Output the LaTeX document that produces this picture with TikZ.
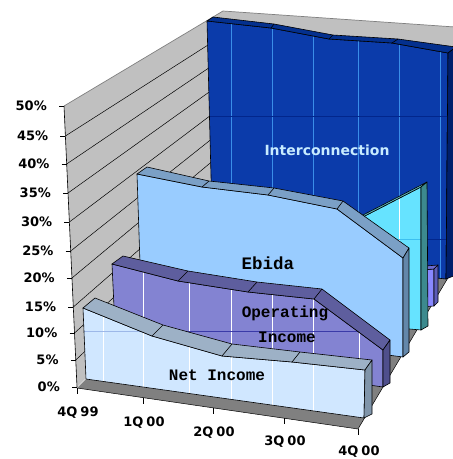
\documentclass[tikz,border=0pt]{standalone}
\usepackage{fontspec}
\setmainfont{DejaVu Sans}
\newfontfamily\monofnt{Liberation Mono}
\usetikzlibrary{calc}
\definecolor{floorgray}{HTML}{808080}
\definecolor{wallgray}{HTML}{C0C0C0}
\definecolor{wallline}{HTML}{808080}
\definecolor{icFront}{HTML}{0B3BAA}
\definecolor{icSlab}{HTML}{04308E}
\definecolor{icRight}{HTML}{001F6B}
\definecolor{icV}{HTML}{3A8EE8}
\definecolor{icH}{HTML}{02268C}
\definecolor{puFront}{HTML}{8888FF}
\definecolor{puSlab}{HTML}{6A6AD0}
\definecolor{puRight}{HTML}{5C5CB8}
\definecolor{cyFront}{HTML}{66E3FF}
\definecolor{cySlab}{HTML}{5EBCC4}
\definecolor{cyRight}{HTML}{3C8A8E}
\definecolor{cyH}{HTML}{3CC0F0}
\definecolor{ebFront}{HTML}{99CCFF}
\definecolor{ebSlab}{HTML}{7BA0C6}
\definecolor{ebRight}{HTML}{6387AA}
\definecolor{opFront}{HTML}{8383D2}
\definecolor{opSlab}{HTML}{5E5E9E}
\definecolor{opRight}{HTML}{4F4F8C}
\definecolor{opH}{HTML}{3A3AA8}
\definecolor{niFront}{HTML}{D0E7FF}
\definecolor{niSlab}{HTML}{9DB1C6}
\definecolor{niRight}{HTML}{8095AA}
\definecolor{niH}{HTML}{9DB8E8}
\definecolor{intertext}{HTML}{C8ECFF}
\newcommand\myaxfont{\bfseries\fontsize{13}{13}\selectfont}
\newcommand\myserfont{\monofnt\bfseries\fontsize{16}{16}\selectfont}
\newcommand\myebfont{\monofnt\bfseries\fontsize{17.5}{17.5}\selectfont}
\newcommand\myintfont{\bfseries\fontsize{14}{14}\selectfont}
\begin{document}
\begin{tikzpicture}[x=1pt,y=-1pt,
  edge/.style={draw=black,line width=0.6pt,line join=round},
  gline/.style={line width=0.7pt},
  wgrid/.style={draw=black,line width=0.5pt},
  ylab/.style={font=\myaxfont,anchor=east,inner sep=0pt},
  clab/.style={font=\myaxfont,inner sep=0pt},
  slabel/.style={font=\myserfont,inner sep=0pt,text=black}]
\useasboundingbox (0,0) rectangle (453,459);
\coordinate (vp) at (827,-350);
% ---------- floor ----------
\fill[floorgray] (77,388) -- (358,429) -- (455,266) -- (455,255) -- (223,243) -- cycle;
\draw[black,line width=0.5pt] (77,388) -- (358,429) -- (455,266);
% ---------- walls ----------
\fill[wallgray] (223,11) -- (455,27) -- (455,258) -- (223,243) -- cycle;
\fill[wallgray] (64,106) -- (223,11) -- (223,243) -- (77,387) -- cycle;
\begin{scope}
  \clip (64,106) -- (223,11) -- (223,243) -- (77,387) -- cycle;
  \foreach \yy in {136,164,193,222,251,278,307,333,360} {
    \pgfmathsetmacro\xx{64+13*(\yy-106)/281}
    \draw[wgrid] (\xx,\yy) -- ($(\xx,\yy)!0.6!(vp)$);
  }
\end{scope}
\draw[wallline,line width=0.7pt] (64,106) -- (223,11) -- (455,27);
% ---------- Interconnection ----------
\coordinate (i0) at (207,21); \coordinate (i1) at (271,28); \coordinate (i2) at (329,39);
\coordinate (i3) at (392,43); \coordinate (i4) at (448,53); \coordinate (ib4) at (446,279);
\coordinate (ib0) at (213,254);
\coordinate (j0) at (213,17); \coordinate (j1) at (274,24); \coordinate (j2) at (333,35);
\coordinate (j3) at (398,39); \coordinate (j4) at (456,47); \coordinate (jb4) at (456,275);
\fill[icFront] (i0)--(i1)--(i2)--(i3)--(i4)--(ib4)--(ib0)--cycle;
\begin{scope}
  \clip (i0)--(i1)--(i2)--(i3)--(i4)--(ib4)--(ib0)--cycle;
  \foreach \vx in {231,272,313,358,399,440} \draw[icV,gline] (\vx,0) -- (\vx,300);
  \draw[icH,gline] (200,116) -- (455,116);
  \draw[icH,gline] (200,239) -- (455,239);
\end{scope}
\draw[edge] (i0)--(i1)--(i2)--(i3)--(i4)--(ib4)--(ib0)--cycle;
\fill[icSlab] (i0)--(i1)--(i2)--(i3)--(i4)--(j4)--(j3)--(j2)--(j1)--(j0)--cycle;
\draw[edge] (i0)--(i1)--(i2)--(i3)--(i4)--(j4)--(j3)--(j2)--(j1)--(j0)--cycle;
\draw[edge] (i1)--(j1) (i2)--(j2) (i3)--(j3);
\fill[icRight] (i4)--(j4)--(jb4)--(ib4)--cycle;
\draw[edge] (i4)--(j4)--(jb4)--(ib4)--cycle;
% ---------- small purple series ----------
\coordinate (p3) at (395,272); \coordinate (p4) at (434,269); \coordinate (pb4) at (434,306);
\coordinate (pb3) at (395,309);
\coordinate (q3) at (400,268); \coordinate (q4) at (438,265); \coordinate (qb4) at (438,302);
\fill[puFront] (p3)--(p4)--(pb4)--(pb3)--cycle;
\draw[edge] (p3)--(p4)--(pb4)--(pb3)--cycle;
\fill[puSlab] (p3)--(p4)--(q4)--(q3)--cycle;
\draw[edge] (p3)--(p4)--(q4)--(q3)--cycle;
\fill[puRight] (p4)--(q4)--(qb4)--(pb4)--cycle;
\draw[edge] (p4)--(q4)--(qb4)--(pb4)--cycle;
% ---------- cyan series ----------
\coordinate (c0) at (215,250); \coordinate (c3) at (357,220); \coordinate (c4) at (421,187);
\coordinate (cb4) at (421,330); \coordinate (cb0) at (215,312);
\coordinate (d0) at (222,245); \coordinate (d3) at (363,215); \coordinate (d4) at (427,182);
\coordinate (db4) at (428,326);
\fill[cyFront] (c0)--(c3)--(c4)--(cb4)--(cb0)--cycle;
\begin{scope}
  \clip (c0)--(c3)--(c4)--(cb4)--(cb0)--cycle;
  \foreach \vx in {359,399} \draw[white,gline] (\vx,150) -- (\vx,340);
  \draw[cyH,gline] (200,239) -- (430,239);
\end{scope}
\draw[edge] (c0)--(c3)--(c4)--(cb4)--(cb0)--cycle;
\fill[cySlab] (c0)--(c3)--(c4)--(d4)--(d3)--(d0)--cycle;
\draw[edge] (c0)--(c3)--(c4)--(d4)--(d3)--(d0)--cycle;
\fill[cyRight] (c4)--(d4)--(db4)--(cb4)--cycle;
\draw[edge] (c4)--(d4)--(db4)--(cb4)--cycle;
% ---------- Ebida ----------
\coordinate (e0) at (137,174); \coordinate (e1) at (202,187); \coordinate (e2) at (268,195);
\coordinate (e3) at (337,209); \coordinate (e4) at (403,258); \coordinate (eb4) at (403,357);
\coordinate (eb0) at (142,323);
\coordinate (f0) at (147,167); \coordinate (f1) at (209,181); \coordinate (f2) at (274,188);
\coordinate (f3) at (343,201); \coordinate (f4) at (409,248); \coordinate (fb4) at (409,352);
\fill[ebFront] (e0)--(e1)--(e2)--(e3)--(e4)--(eb4)--(eb0)--cycle;
\draw[edge] (e0)--(e1)--(e2)--(e3)--(e4)--(eb4)--(eb0)--cycle;
\fill[ebSlab] (e0)--(e1)--(e2)--(e3)--(e4)--(f4)--(f3)--(f2)--(f1)--(f0)--cycle;
\draw[edge] (e0)--(e1)--(e2)--(e3)--(e4)--(f4)--(f3)--(f2)--(f1)--(f0)--cycle;
\draw[edge] (e1)--(f1) (e2)--(f2) (e3)--(f3);
\fill[ebRight] (e4)--(f4)--(fb4)--(eb4)--cycle;
\draw[edge] (e4)--(f4)--(fb4)--(eb4)--cycle;
% ---------- Operating Income ----------
\coordinate (o0) at (112,264); \coordinate (o1) at (178,281); \coordinate (o2) at (248,292);
\coordinate (o3) at (314,299); \coordinate (o4) at (383,350); \coordinate (ob4) at (383,387);
\coordinate (ob0) at (116,349);
\coordinate (g0) at (123,256); \coordinate (g1) at (188,271); \coordinate (g2) at (257,282);
\coordinate (g3) at (322,289); \coordinate (g4) at (390,340); \coordinate (gb4) at (390,383);
\fill[opFront] (o0)--(o1)--(o2)--(o3)--(o4)--(ob4)--(ob0)--cycle;
\begin{scope}
  \clip (o0)--(o1)--(o2)--(o3)--(o4)--(ob4)--(ob0)--cycle;
  \foreach \vx in {143,189,231,272,313,359} \draw[white,gline] (\vx,250) -- (\vx,400);
  \draw[opH,gline] (100,331) -- (400,331);
\end{scope}
\draw[edge] (o0)--(o1)--(o2)--(o3)--(o4)--(ob4)--(ob0)--cycle;
\fill[opSlab] (o0)--(o1)--(o2)--(o3)--(o4)--(g4)--(g3)--(g2)--(g1)--(g0)--cycle;
\draw[edge] (o0)--(o1)--(o2)--(o3)--(o4)--(g4)--(g3)--(g2)--(g1)--(g0)--cycle;
\draw[edge] (o1)--(g1) (o2)--(g2) (o3)--(g3);
\fill[opRight] (o4)--(g4)--(gb4)--(ob4)--cycle;
\draw[edge] (o4)--(g4)--(gb4)--(ob4)--cycle;
% ---------- Net Income ----------
\coordinate (n0) at (83,308); \coordinate (n1) at (152,336); \coordinate (n2) at (222,356);
\coordinate (n3) at (292,362); \coordinate (n4) at (365,370); \coordinate (nb4) at (364,418);
\coordinate (nb0) at (86,379);
\coordinate (m0) at (95,298); \coordinate (m1) at (163,325); \coordinate (m2) at (232,344);
\coordinate (m3) at (300,352); \coordinate (m4) at (372,360); \coordinate (mb4) at (372,414);
\fill[niFront] (n0)--(n1)--(n2)--(n3)--(n4)--(nb4)--(nb0)--cycle;
\begin{scope}
  \clip (n0)--(n1)--(n2)--(n3)--(n4)--(nb4)--(nb0)--cycle;
  \foreach \vx in {103,143,189,231,272,313} \draw[white,gline] (\vx,290) -- (\vx,430);
  \draw[niH,gline] (60,331) -- (400,331);
\end{scope}
\draw[edge] (n0)--(n1)--(n2)--(n3)--(n4)--(nb4)--(nb0)--cycle;
\fill[niSlab] (n0)--(n1)--(n2)--(n3)--(n4)--(m4)--(m3)--(m2)--(m1)--(m0)--cycle;
\draw[edge] (n0)--(n1)--(n2)--(n3)--(n4)--(m4)--(m3)--(m2)--(m1)--(m0)--cycle;
\draw[edge] (n1)--(m1) (n2)--(m2) (n3)--(m3);
\fill[niRight] (n4)--(m4)--(mb4)--(nb4)--cycle;
\draw[edge] (n4)--(m4)--(mb4)--(nb4)--cycle;
% ---------- value axis ----------
\coordinate (ax50) at (64,106); \coordinate (ax0) at (77,387);
\draw[black,line width=0.6pt] (ax50) -- (ax0);
\foreach \lab/\yy in {50/106,45/136,40/164,35/193,30/222,25/251,20/278,15/307,10/333,5/360,0/387} {
  \pgfmathsetmacro\xx{64+13*(\yy-106)/281}
  \draw[black,line width=0.6pt] (\xx-5,\yy) -- (\xx,\yy);
  \node[ylab] (yl\lab) at (\xx-17,\yy) {\lab\%};
}
% ---------- category axis ----------
\foreach \cx/\lab/\ly/\nm in {77/4Q\hspace{3pt}99/413/a,143/1Q\hspace{3pt}00/423/b,213/2Q\hspace{3pt}00/433/c,284/3Q\hspace{3pt}00/442/d,358/4Q\hspace{3pt}00/452/e} {
  \pgfmathsetmacro\ty{388+(\cx-77)*41/281}
  \draw[black,line width=0.6pt] (\cx,\ty) -- (\cx,\ty+6);
  \node[clab] (cl\nm) at (\cx+1,\ly) {\lab};
}
% ---------- series labels ----------
\node[font=\myintfont,text=intertext,inner sep=0pt] (tInter) at (327,150) {Interconnection};
\node[slabel,font=\myebfont] (tEbida) at (268,263) {Ebida};
\node[slabel] (tOp1) at (285,313) {Operating};
\node[slabel] (tOp2) at (287,337) {Income};
\node[slabel] (tNet) at (217,375) {Net Income};
\end{tikzpicture}
\end{document}
